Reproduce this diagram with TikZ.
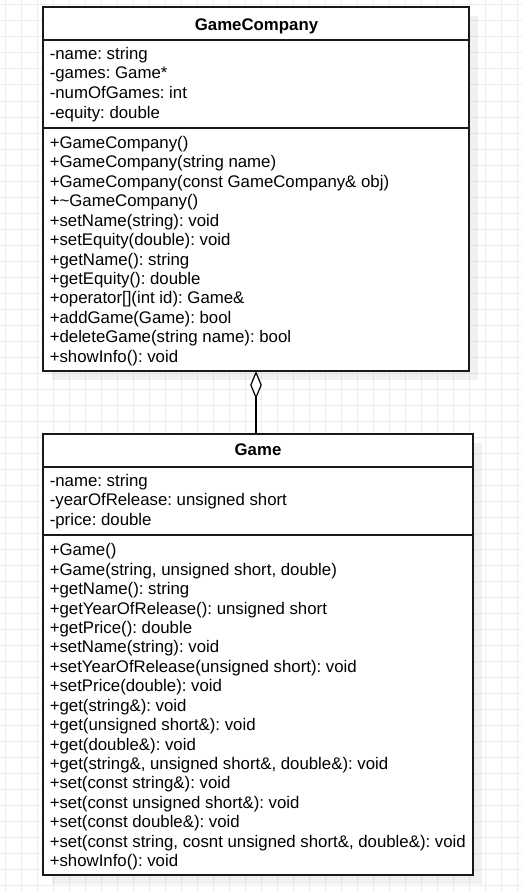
\documentclass[tikz,border=0pt]{standalone}
\usepackage{fontspec}
\setmainfont{Liberation Sans}
\usetikzlibrary{arrows.meta,backgrounds,calc,positioning}
\tikzset{
	gridline/.style={line width=0.75pt, color=black!7},
	classbox/.style={draw=black!90, line width=0.9pt, fill=white, inner sep=0pt, outer sep=0pt},
	classtitle/.style={anchor=base, inner sep=0pt, font=\fontsize{12.6}{14.6}\selectfont\bfseries},
	member/.style={anchor=base west, inner sep=0pt, font=\fontsize{12.6}{14.6}\selectfont\frenchspacing},
	boxshadow/.style={fill=black, opacity=0.06},
	aggregation/.style={line width=0.9pt, {Diamond[fill=white, length=21pt, width=8.7pt]}-},
}

\begin{document}
\begin{tikzpicture}[x=0.75pt, y=-0.75pt]
			%%%%% START %%%%%
			\useasboundingbox (0,0) rectangle (522,892);
			
			% GameCompany
			\node[classbox, anchor=north west, minimum width=319.5pt, minimum height=24.75pt] (gcHead) at (43,7) {};
			\node[classbox, minimum width=319.5pt, minimum height=66pt, below=0pt of gcHead] (gcAttr) {};
			\node[classbox, minimum width=319.5pt, minimum height=182.25pt, below=0pt of gcAttr] (gcOps) {};
			\node[classtitle] (gcTitle) at (256.5,30.5) {GameCompany};
			
			\foreach \txt [count=\i from 0] in {{-name: string}, {-games: Game*}, {-numOfGames: int}, {-equity: double}}
				\node[member] (gcA\i) at (49.5,{59.5+19.5*\i}) {\txt};
			
			\foreach \txt [count=\i from 0] in {{+GameCompany()}, {+GameCompany(string name)}, {+GameCompany(const GameCompany\& obj)}, {+\textasciitilde GameCompany()}, {+setName(string): void}, {+setEquity(double): void}, {+getName(): string}, {+getEquity(): double}, {+operator[](int id): Game\&}, {+addGame(Game): bool}, {+deleteGame(string name): bool}, {+showInfo(): void}}
				\node[member] (gcO\i) at (49.5,{148.3+19.45*\i}) {\txt};
			
			% Game
			\node[classbox, anchor=north west, minimum width=322.5pt, minimum height=24.75pt] (gHead) at (43,434) {};
			\node[classbox, minimum width=322.5pt, minimum height=51pt, below=0pt of gHead] (gAttr) {};
			\node[classbox, minimum width=322.5pt, minimum height=255pt, below=0pt of gAttr] (gOps) {};
			\node[classtitle] (gTitle) at (258,455.5) {Game};
			
			\foreach \txt [count=\i from 0] in {{-name: string}, {-yearOfRelease: unsigned short}, {-price: double}}
				\node[member] (gA\i) at (49.5,{486+19.5*\i}) {\txt};
			
			\foreach \txt [count=\i from 0] in {{+Game()}, {+Game(string, unsigned short, double)}, {+getName(): string}, {+getYearOfRelease(): unsigned short}, {+getPrice(): double}, {+setName(string): void}, {+setYearOfRelease(unsigned short): void}, {+setPrice(double): void}, {+get(string\&): void}, {+get(unsigned short\&): void}, {+get(double\&): void}, {+get(string\&, unsigned short\&, double\&): void}, {+set(const string\&): void}, {+set(const unsigned short\&): void}, {+set(const double\&): void}, {+set(const string, cosnt unsigned short\&, double\&): void}, {+showInfo(): void}}
				\node[member] (gO\i) at (49.5,{555.7+19.44*\i}) {\txt};
			
			% aggregation
			\draw[aggregation] (gcOps.south) -- (gcOps.south |- gHead.north);
			
			% grid and shadows
			\begin{scope}[on background layer]
				\fill[white] (0,0) rectangle (522,892);
				\foreach \gx in {5,21,...,517} \draw[gridline] (\gx,0) -- (\gx,892);
				\foreach \gy in {5,21,...,885} \draw[gridline] (0,\gy) -- (522,\gy);
				\fill[boxshadow] ($(gcHead.north west)+(9,9)$) rectangle ($(gcOps.south east)+(9,9)$);
				\fill[boxshadow] ($(gHead.north west)+(9,9)$) rectangle ($(gOps.south east)+(9,9)$);
			\end{scope}
			
			%%%%% END %%%%%
\end{tikzpicture}
\end{document}
